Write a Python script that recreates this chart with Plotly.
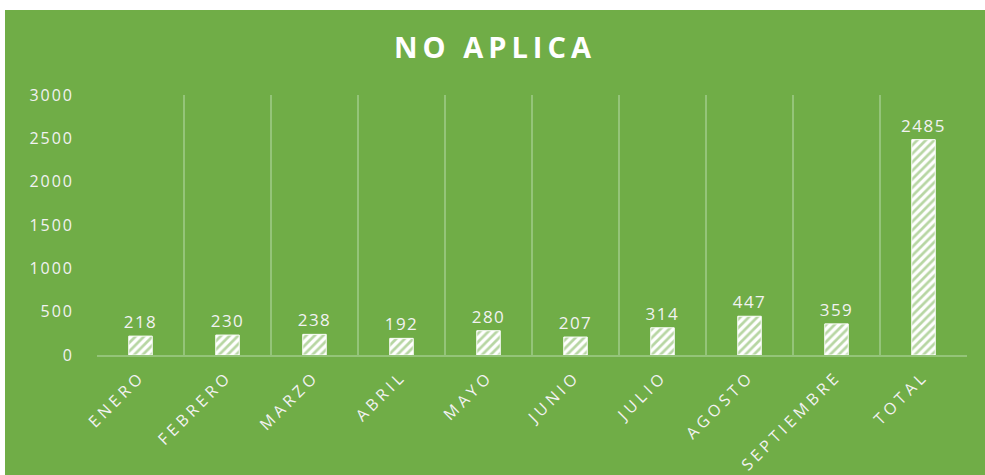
import plotly.graph_objects as go

categories = ["ENERO", "FEBRERO", "MARZO", "ABRIL", "MAYO", "JUNIO", "JULIO", "AGOSTO", "SEPTIEMBRE", "TOTAL"]
values = [218, 230, 238, 192, 280, 207, 314, 447, 359, 2485]
y_ticks = [0, 500, 1000, 1500, 2000, 2500, 3000]

GREEN = "#70AD47"
TXT = "#F2F2F2"
GRID = "#94C479"

fig = go.Figure(go.Bar(
    x=categories, y=values,
    width=0.27,
    marker=dict(color="white", line=dict(color="white", width=1),
                pattern=dict(shape="/", fgcolor=GREEN, bgcolor="white", size=6, solidity=0.45)),
    text=[str(v) for v in values], textposition="outside",
    textfont=dict(size=17, color=TXT, family="Open Sans"),
    constraintext="none",
    cliponaxis=False,
))

fig.update_layout(
    width=980, height=465,
    paper_bgcolor=GREEN, plot_bgcolor=GREEN,
    margin=dict(l=92, r=18, t=85, b=120),
    title=dict(text="<b>NO APLICA</b>", x=0.5, xanchor="center", y=0.918, yanchor="middle",
               font=dict(size=29, color="white", family="Open Sans")),
    showlegend=False,
    xaxis=dict(type="category", tickson="boundaries", showgrid=True, gridcolor=GRID, gridwidth=1.5,
               ticks="", tickangle=-45, showline=True, linecolor=GRID, linewidth=1.5,
               tickfont=dict(size=16, color=TXT, family="Open Sans"), ticklabelstandoff=4),
    yaxis=dict(range=[0, 3000], tickvals=y_ticks, showgrid=False, zeroline=False,
               tickfont=dict(size=16, color=TXT, family="Open Sans"), ticks="", ticklabelstandoff=22),
)

css = ("body{margin:10px 0 0 5px;overflow:hidden}"
       ".gtitle{letter-spacing:5px}"
       ".xtick text{letter-spacing:4px}"
       ".ytick text{letter-spacing:2px}"
       ".bartext{letter-spacing:1.5px}")
post = "var s=document.createElement('style');s.textContent='" + css + "';document.head.appendChild(s);"

fig.write_html("out.html", post_script=post)
